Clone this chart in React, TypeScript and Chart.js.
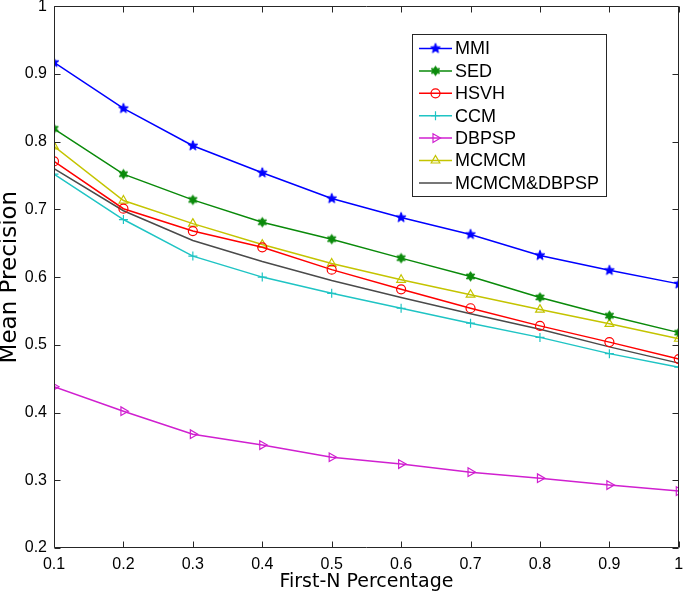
import React, { useEffect, useRef } from 'react';
import { Chart, registerables } from 'chart.js';
import { drawPoint } from 'chart.js/helpers';

Chart.register(...registerables);

const xValues = [0.1, 0.2, 0.3, 0.4, 0.5, 0.6, 0.7, 0.8, 0.9, 1.0];
const xTickValues = [0.1, 0.2, 0.3, 0.4, 0.5, 0.6, 0.7, 0.8, 0.9, 1.0];
const xTickLabels = ['0.1', '0.2', '0.3', '0.4', '0.5', '0.6', '0.7', '0.8', '0.9', '1'];
const yTickValues = [0.2, 0.3, 0.4, 0.5, 0.6, 0.7, 0.8, 0.9, 1.0];
const yTickLabels = ['0.2', '0.3', '0.4', '0.5', '0.6', '0.7', '0.8', '0.9', '1'];

const seriesNames = ['MMI', 'SED', 'HSVH', 'CCM', 'DBPSP', 'MCMCM', 'MCMCM&DBPSP'];
const mmi = [0.917, 0.849, 0.794, 0.754, 0.716, 0.688, 0.663, 0.632, 0.61, 0.59];
const sed = [0.819, 0.752, 0.714, 0.681, 0.656, 0.628, 0.601, 0.57, 0.543, 0.518];
const hsvh = [0.771, 0.701, 0.668, 0.644, 0.611, 0.582, 0.554, 0.528, 0.504, 0.479];
const ccm = [0.752, 0.685, 0.631, 0.6, 0.576, 0.554, 0.532, 0.511, 0.487, 0.467];
const dbpsp = [0.438, 0.402, 0.368, 0.352, 0.334, 0.324, 0.312, 0.303, 0.293, 0.284];
const mcmcm = [0.793, 0.713, 0.679, 0.648, 0.62, 0.596, 0.574, 0.552, 0.531, 0.509];
const mcmcmDbpsp = [0.76, 0.698, 0.654, 0.623, 0.595, 0.57, 0.546, 0.523, 0.497, 0.473];

const FONT = '"Liberation Sans", Arial, Helvetica, sans-serif';
const TITLE_FONT = '"DejaVu Sans", "Liberation Sans", sans-serif';
const AXIS_COLOR = '#262626';

function makeStar(points: number, outer: number, innerRatio: number, color: string) {
  const size = Math.ceil(outer * 2 + 3);
  const c = document.createElement('canvas');
  c.width = size;
  c.height = size;
  const ctx = c.getContext('2d')!;
  ctx.translate(size / 2, size / 2);
  ctx.beginPath();
  for (let i = 0; i < points * 2; i++) {
    const r = i % 2 === 0 ? outer : outer * innerRatio;
    const a = -Math.PI / 2 + (i * Math.PI) / points;
    ctx.lineTo(r * Math.cos(a), r * Math.sin(a));
  }
  ctx.closePath();
  ctx.fillStyle = color;
  ctx.fill();
  ctx.strokeStyle = color;
  ctx.lineWidth = 1;
  ctx.stroke();
  return c;
}

const frameAndLegend = {
  id: 'frameAndLegend',
  afterDatasetsDraw(chart: any) {
    const { ctx, chartArea } = chart;
    const xs = chart.scales.x;
    const ys = chart.scales.y;
    const l = Math.round(chartArea.left) + 0.5;
    const r = Math.round(chartArea.right) - 0.5;
    const t = Math.round(chartArea.top) + 0.5;
    const b = Math.round(chartArea.bottom) - 0.5;
    const tick = 6;
    ctx.save();
    ctx.strokeStyle = AXIS_COLOR;
    ctx.lineWidth = 1;
    ctx.beginPath();
    ctx.rect(l, t, r - l, b - t);
    for (const v of xTickValues) {
      const px = Math.round(xs.getPixelForValue(v)) + 0.5;
      ctx.moveTo(px, b);
      ctx.lineTo(px, b - tick);
      ctx.moveTo(px, t);
      ctx.lineTo(px, t + tick);
    }
    for (const v of yTickValues) {
      const py = Math.round(ys.getPixelForValue(v)) + 0.5;
      ctx.moveTo(l, py);
      ctx.lineTo(l + tick, py);
      ctx.moveTo(r, py);
      ctx.lineTo(r - tick, py);
    }
    ctx.stroke();
    ctx.restore();
  },
  afterDraw(chart: any) {
    const { ctx } = chart;
    const boxL = 412.5;
    const boxT = 34.5;
    const boxW = 194;
    const boxH = 162;
    ctx.save();
    ctx.fillStyle = '#ffffff';
    ctx.fillRect(boxL, boxT, boxW, boxH);
    ctx.strokeStyle = AXIS_COLOR;
    ctx.lineWidth = 1;
    ctx.strokeRect(boxL, boxT, boxW, boxH);
    chart.data.datasets.forEach((ds: any, i: number) => {
      const y = 48.5 + i * 22.4;
      ctx.strokeStyle = ds.borderColor;
      ctx.lineWidth = ds.borderWidth;
      ctx.beginPath();
      ctx.moveTo(419, y);
      ctx.lineTo(452, y);
      ctx.stroke();
      if (ds.pointRadius > 0) {
        ctx.fillStyle = ds.pointBackgroundColor;
        ctx.strokeStyle = ds.pointBorderColor;
        ctx.lineWidth = ds.pointBorderWidth;
        drawPoint(ctx, {
          pointStyle: ds.pointStyle,
          rotation: ds.pointRotation || 0,
          radius: ds.pointRadius,
          borderWidth: ds.pointBorderWidth,
        } as any, 435.5, y);
      }
      ctx.fillStyle = '#000000';
      ctx.font = `18px ${FONT}`;
      ctx.textBaseline = 'middle';
      ctx.textAlign = 'left';
      ctx.fillText(ds.label, 455, y + 1);
    });
    ctx.restore();
  },
};

export default function App() {
  const ref = useRef<HTMLCanvasElement | null>(null);

  useEffect(() => {
    if (!ref.current) return;
    const toPts = (arr: number[]) => arr.map((v, i) => ({ x: xValues[i], y: v }));
    const blueStar = makeStar(5, 5.2, 0.42, '#0000ff');
    const greenStar = makeStar(6, 4.8, 0.55, '#0a8a0a');

    const base = {
      borderWidth: 1.5,
      pointBorderWidth: 1.2,
      pointRadius: 4.5,
      tension: 0,
      fill: false,
    };

    const chart = new Chart(ref.current, {
      type: 'line',
      data: {
        datasets: [
          { ...base, label: seriesNames[0], data: toPts(mmi), borderColor: '#0000ff', pointStyle: blueStar as any, pointBackgroundColor: '#0000ff', pointBorderColor: '#0000ff' },
          { ...base, label: seriesNames[1], data: toPts(sed), borderColor: '#0a8a0a', pointStyle: greenStar as any, pointBackgroundColor: '#0a8a0a', pointBorderColor: '#0a8a0a' },
          { ...base, label: seriesNames[2], data: toPts(hsvh), borderColor: '#ff0000', pointStyle: 'circle', pointRadius: 4.5, pointBackgroundColor: 'rgba(0,0,0,0)', pointBorderColor: '#ff0000' },
          { ...base, label: seriesNames[3], data: toPts(ccm), borderColor: '#1fc4c4', pointStyle: 'cross', pointRadius: 4.5, pointBackgroundColor: 'rgba(0,0,0,0)', pointBorderColor: '#1fc4c4' },
          { ...base, label: seriesNames[4], data: toPts(dbpsp), borderColor: '#d020d0', pointStyle: 'triangle', pointRotation: 90, pointRadius: 5, pointBackgroundColor: 'rgba(0,0,0,0)', pointBorderColor: '#d020d0' },
          { ...base, label: seriesNames[5], data: toPts(mcmcm), borderColor: '#c4c400', pointStyle: 'triangle', pointRadius: 5, pointBackgroundColor: 'rgba(0,0,0,0)', pointBorderColor: '#c4c400' },
          { ...base, label: seriesNames[6], data: toPts(mcmcmDbpsp), borderColor: '#4a4a4a', pointRadius: 0, pointHoverRadius: 0, pointBackgroundColor: '#4a4a4a', pointBorderColor: '#4a4a4a' },
        ],
      },
      options: {
        animation: false,
        responsive: false,
        devicePixelRatio: 1,
        events: [],
        layout: { padding: { top: 5, right: 3, left: 0, bottom: 0 } },
        plugins: {
          legend: { display: false },
          tooltip: { enabled: false },
        },
        scales: {
          x: {
            type: 'linear',
            min: 0.1,
            max: 1,
            grid: { display: false, drawTicks: false },
            border: { display: false },
            afterBuildTicks: (scale: any) => {
              scale.ticks = xTickValues.map((v) => ({ value: v }));
            },
            afterFit: (scale: any) => {
              scale.height = 47;
              scale.paddingLeft = 0;
              scale.paddingRight = 0;
            },
            ticks: {
              autoSkip: false,
              maxRotation: 0,
              padding: 7,
              color: '#000000',
              font: { family: FONT, size: 16 },
              callback: (_v: any, i: number) => xTickLabels[i],
            },
            title: {
              display: true,
              text: 'First-N Percentage',
              color: '#000000',
              font: { family: TITLE_FONT, size: 19 },
              padding: { top: 0, bottom: 2 },
            },
          },
          y: {
            type: 'linear',
            min: 0.2,
            max: 1,
            grid: { display: false, drawTicks: false },
            border: { display: false },
            afterBuildTicks: (scale: any) => {
              scale.ticks = yTickValues.map((v) => ({ value: v }));
            },
            afterFit: (scale: any) => {
              scale.width = 54;
              scale.paddingTop = 0;
              scale.paddingBottom = 0;
            },
            ticks: {
              autoSkip: false,
              padding: 7,
              color: '#000000',
              font: { family: FONT, size: 16 },
              callback: (_v: any, i: number) => yTickLabels[i],
            },
            title: {
              display: true,
              text: 'Mean Precision',
              color: '#000000',
              font: { family: TITLE_FONT, size: 23, lineHeight: 0.9 },
              padding: { top: 0, bottom: 0 },
            },
          },
        },
      },
      plugins: [frameAndLegend],
    } as any);

    return () => chart.destroy();
  }, []);

  return (
    <div style={{ position: 'absolute', left: 0, top: 0, width: 685, height: 595, background: '#ffffff' }}>
      <canvas ref={ref} width={685} height={595} style={{ width: 685, height: 595, display: 'block' }} />
    </div>
  );
}
